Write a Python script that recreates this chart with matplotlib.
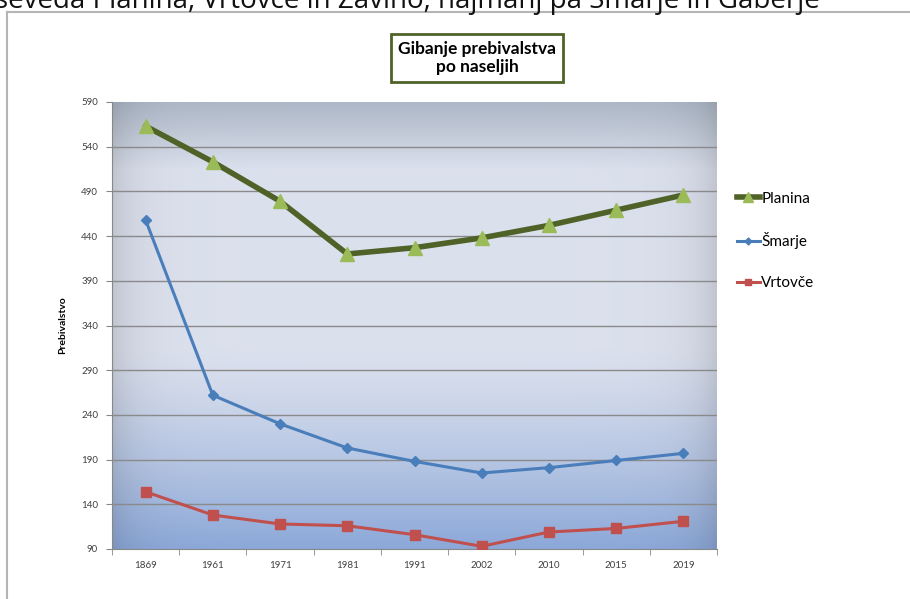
import matplotlib.pyplot as plt
import numpy as np
from matplotlib.lines import Line2D

# Population by settlement
years = ['1869', '1961', '1971', '1981', '1991', '2002', '2010', '2015', '2019']
planina = [563, 523, 479, 420, 427, 438, 452, 469, 486]
smarje = [458, 262, 230, 203, 188, 175, 181, 189, 197]
vrtovce = [154, 128, 118, 116, 106, 93, 109, 113, 121]

plt.rcParams['font.family'] = ['Lato', 'DejaVu Sans']

fig = plt.figure(figsize=(9.1, 5.99), dpi=100)
fig.patch.set_facecolor('white')

# document text cut off at the top of the screenshot
fig.text(-0.006, 1 - 8 / 599, 'seveda Planina, Vrtovče in Zavino, najmanj pa Šmarje in Gaberje',
         fontsize=20, family=['Open Sans', 'DejaVu Sans'], va='baseline', ha='left', color='#111111')

# chart frame
fig.add_artist(Line2D([7 / 910, 7 / 910], [0, 1 - 12 / 599], color='#b5b5b5', lw=1.5))
fig.add_artist(Line2D([7 / 910, 1], [1 - 12 / 599, 1 - 12 / 599], color='#b5b5b5', lw=1.5))

ax = fig.add_axes([112 / 910, 1 - 549 / 599, 605 / 910, 447 / 599])
x = np.arange(len(years))

# plot area gradient background
h, w = 200, 200
t = np.linspace(0, 1, h)[:, None]
top = np.array([0.68, 0.72, 0.78])
mid = np.array([0.86, 0.88, 0.93])
bot = np.array([0.55, 0.66, 0.85])
col = np.zeros((h, 1, 3))
a = np.clip(t / 0.15, 0, 1)
col[:] = top + (mid - top) * a[..., None]
b = np.clip((t - 0.55) / 0.45, 0, 1)
col = col + (bot - mid) * (b[..., None] ** 1.3) * (t[..., None] > 0.55)
img = np.repeat(col, w, axis=1)
xs = np.linspace(0, 1, w)[None, :]
edge = np.exp(-xs / 0.04) + np.exp(-(1 - xs) / 0.04)
img = img * (1 - 0.12 * edge[..., None])
img = np.clip(img, 0, 1)
ax.imshow(img, extent=[-0.5, 8.5, 90, 590], aspect='auto', zorder=0)

yt = np.arange(90, 591, 50)
for yv in yt[1:-1]:
    ax.axhline(yv, color='#8a8a8a', lw=1, zorder=1)

ax.plot(x, planina, color='#4f6228', lw=4, marker='^', markersize=10,
        markerfacecolor='#9bbb59', markeredgecolor='#9bbb59', label='Planina', zorder=3)
ax.plot(x, smarje, color='#4a7ebb', lw=2.2, marker='D', markersize=5,
        markerfacecolor='#4a7ebb', markeredgecolor='#4a7ebb', label='Šmarje', zorder=3)
ax.plot(x, vrtovce, color='#c0504d', lw=2.2, marker='s', markersize=7,
        markerfacecolor='#c0504d', markeredgecolor='#c0504d', label='Vrtovče', zorder=3)

ax.set_xlim(-0.5, 8.5)
ax.set_ylim(90, 590)
ax.set_yticks(yt)
ax.set_yticklabels([str(v) for v in yt], fontsize=7, color='#404040')
ax.set_xticks(x)
ax.set_xticklabels(years, fontsize=7, color='#404040')
ax.set_xticks(np.arange(-0.5, 9, 1), minor=True)
ax.tick_params(axis='x', which='major', length=0, pad=9)
ax.tick_params(axis='x', which='minor', length=4, color='#888888')
ax.tick_params(axis='y', length=4, color='#888888', pad=6)
for s in ['top', 'right']:
    ax.spines[s].set_visible(False)
for s in ['left', 'bottom']:
    ax.spines[s].set_color('#888888')

ax.set_ylabel('Prebivalstvo', fontsize=7.5, fontweight='bold', labelpad=10)

fig.text(477 / 910, 1 - 58 / 599, 'Gibanje prebivalstva\npo naseljih', ha='center', va='center',
         fontsize=12.5, fontweight='bold', linespacing=1.2,
         bbox=dict(boxstyle='square,pad=0.4', facecolor='white', edgecolor='#4f6228', lw=2))

leg = fig.legend(loc='upper left', bbox_to_anchor=(723 / 910, 1 - 178 / 599), frameon=False,
                 fontsize=11, labelspacing=1.75, handlelength=1.5, handletextpad=0.1,
                 markerscale=0.7)

fig.savefig('out.png', dpi=100)
